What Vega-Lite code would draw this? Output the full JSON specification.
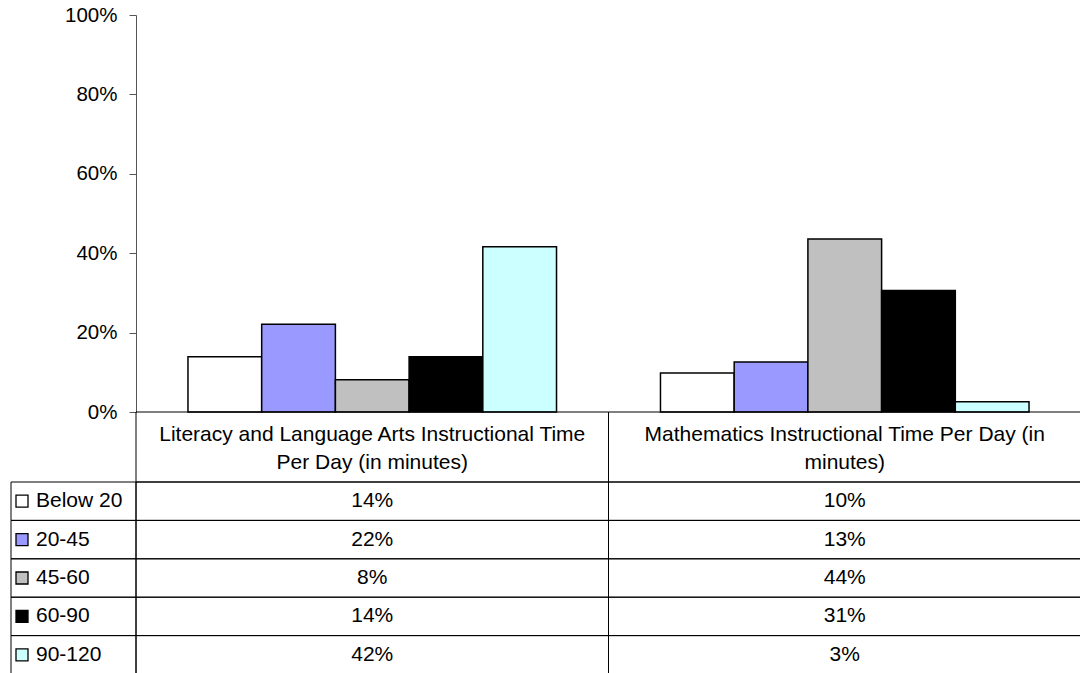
{
  "$schema": "https://vega.github.io/schema/vega-lite/v6.json",
  "padding": {"left": 10, "top": 5, "right": 0, "bottom": 0},
  "config": {"view": {"stroke": null}, "font": "Liberation Sans", "text": {"font": "Liberation Sans"}},
  "datasets": {
    "d": [
      {"cat": "Literacy and Language Arts Instructional Time\nPer Day (in minutes)", "series": "Below 20", "value": 0.139},
      {"cat": "Literacy and Language Arts Instructional Time\nPer Day (in minutes)", "series": "20-45", "value": 0.221},
      {"cat": "Literacy and Language Arts Instructional Time\nPer Day (in minutes)", "series": "45-60", "value": 0.081},
      {"cat": "Literacy and Language Arts Instructional Time\nPer Day (in minutes)", "series": "60-90", "value": 0.139},
      {"cat": "Literacy and Language Arts Instructional Time\nPer Day (in minutes)", "series": "90-120", "value": 0.416},
      {"cat": "Mathematics Instructional Time Per Day (in\nminutes)", "series": "Below 20", "value": 0.098},
      {"cat": "Mathematics Instructional Time Per Day (in\nminutes)", "series": "20-45", "value": 0.126},
      {"cat": "Mathematics Instructional Time Per Day (in\nminutes)", "series": "45-60", "value": 0.436},
      {"cat": "Mathematics Instructional Time Per Day (in\nminutes)", "series": "60-90", "value": 0.306},
      {"cat": "Mathematics Instructional Time Per Day (in\nminutes)", "series": "90-120", "value": 0.026}
    ]
  },
  "data": {"name": "d"},
  "bounds": "flush",
  "spacing": 0,
  "columns": 2,
  "resolve": {"scale": {"x": "independent", "y": "independent"}},
  "concat": [
    {
      "width": 125, "height": 397,
      "mark": {"type": "rect", "opacity": 0},
      "encoding": {}
    },
    {
      "width": 945, "height": 397,
      "mark": {"type": "bar", "stroke": "black", "strokeWidth": 1.5},
      "encoding": {
        "x": {"field": "cat", "type": "nominal", "sort": ["Literacy and Language Arts Instructional Time\nPer Day (in minutes)", "Mathematics Instructional Time Per Day (in\nminutes)"], "axis": null, "scale": {"paddingInner": 0.22, "paddingOuter": 0.11}},
        "xOffset": {"field": "series", "type": "nominal", "sort": ["Below 20", "20-45", "45-60", "60-90", "90-120"], "scale": {"paddingInner": 0, "paddingOuter": 0}},
        "y": {"field": "value", "type": "quantitative", "scale": {"domain": [0, 1]},
              "axis": {"format": ".0%", "values": [0, 0.2, 0.4, 0.6, 0.8, 1], "title": null, "grid": false, "tickSize": 7, "labelPadding": 12, "labelFontSize": 20.5, "labelColor": "black", "labelFont": "Liberation Sans", "domainColor": "#555555", "tickColor": "#555555"}},
        "color": {"field": "series", "type": "nominal", "scale": {"domain": ["Below 20", "20-45", "45-60", "60-90", "90-120"], "range": ["#FFFFFF", "#9999FF", "#C0C0C0", "#000000", "#CCFFFF"]}, "legend": null}
      }
    },
    {
      "width": 125, "height": 70,
      "mark": {"type": "rect", "opacity": 0},
      "encoding": {}
    },
    {
      "width": 945, "height": 70,
      "transform": [{"aggregate": [], "groupby": ["cat"]}],
      "encoding": {
        "x": {"field": "cat", "type": "nominal", "sort": ["Literacy and Language Arts Instructional Time\nPer Day (in minutes)", "Mathematics Instructional Time Per Day (in\nminutes)"], "axis": null, "scale": {"type": "band", "paddingInner": 0, "paddingOuter": 0}}
      },
      "layer": [
        {"mark": {"type": "rect", "filled": false, "stroke": "black", "strokeWidth": 1}},
        {"mark": {"type": "text", "fontSize": 21, "lineBreak": "\n", "lineHeight": 28, "dy": -12, "color": "black"}, "encoding": {"text": {"field": "cat"}}}
      ]
    },
    {
      "width": 125, "height": 192,
      "transform": [{"aggregate": [], "groupby": ["series"]}],
      "encoding": {
        "y": {"field": "series", "type": "nominal", "sort": ["Below 20", "20-45", "45-60", "60-90", "90-120"], "axis": null, "scale": {"type": "band", "paddingInner": 0, "paddingOuter": 0}}
      },
      "layer": [
        {"mark": {"type": "rect", "filled": false, "stroke": "black", "strokeWidth": 1}},
        {"mark": {"type": "point", "shape": "square", "filled": true, "size": 144, "stroke": "black", "strokeWidth": 1.3, "strokeOpacity": 1, "opacity": 1}, "encoding": {"x": {"value": 11}, "fill": {"field": "series", "type": "nominal", "scale": {"domain": ["Below 20", "20-45", "45-60", "60-90", "90-120"], "range": ["#FFFFFF", "#9999FF", "#C0C0C0", "#000000", "#CCFFFF"]}, "legend": null}}},
        {"mark": {"type": "text", "fontSize": 21, "align": "left", "color": "black"}, "encoding": {"x": {"value": 25}, "text": {"field": "series"}}}
      ]
    },
    {
      "width": 945, "height": 192,
      "encoding": {
        "x": {"field": "cat", "type": "nominal", "sort": ["Literacy and Language Arts Instructional Time\nPer Day (in minutes)", "Mathematics Instructional Time Per Day (in\nminutes)"], "axis": null, "scale": {"type": "band", "paddingInner": 0, "paddingOuter": 0}},
        "y": {"field": "series", "type": "nominal", "sort": ["Below 20", "20-45", "45-60", "60-90", "90-120"], "axis": null, "scale": {"type": "band", "paddingInner": 0, "paddingOuter": 0}}
      },
      "layer": [
        {"mark": {"type": "rect", "filled": false, "stroke": "black", "strokeWidth": 1}},
        {"mark": {"type": "text", "fontSize": 21, "color": "black"}, "encoding": {"text": {"field": "value", "type": "quantitative", "format": ".0%"}}}
      ]
    }
  ]
}
